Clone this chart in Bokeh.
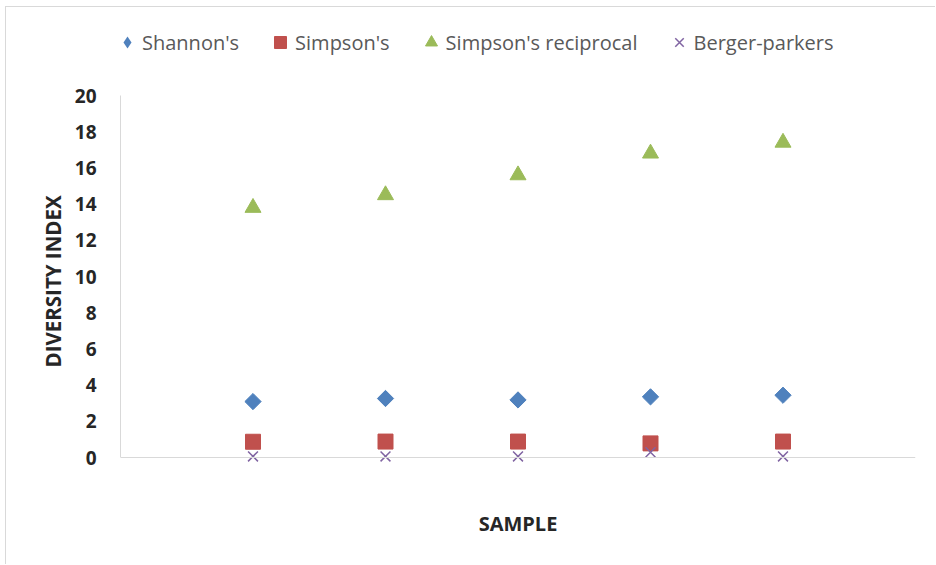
import math
from bokeh.plotting import figure
from bokeh.models import (ColumnDataSource, Legend, LegendItem, Range1d,
                          FixedTicker, Span, Title)
from bokeh.embed import file_html
from bokeh.resources import INLINE

# Diversity indices for five samples
samples = [1, 2, 3, 4, 5]
shannon = [3.09, 3.26, 3.18, 3.35, 3.44]
simpson = [0.87, 0.88, 0.88, 0.78, 0.88]
simpson_recip = [13.8, 14.5, 15.6, 16.8, 17.4]
berger_parker = [0.06, 0.06, 0.06, 0.29, 0.06]
y_ticks = [0, 2, 4, 6, 8, 10, 12, 14, 16, 18, 20]

BLUE = "#4f81bd"
RED = "#c0504d"
GREEN = "#9bbb59"
PURPLE = "#8064a2"
AXIS_GREY = "#d9d9d9"
TEXT_DARK = "#262626"
FONT = "Open Sans"

# The frame reaches above and below the 0..20 axis so the legend and the
# markers sitting on the baseline are not clipped.
PX_PER_UNIT = 362 / 20
FRAME_EXTRA_TOP = 80
FRAME_EXTRA_BOTTOM = 18

src = ColumnDataSource(dict(x=samples, sh=shannon, si=simpson,
                            sr=simpson_recip, bp=berger_parker))

p = figure(width=930, height=558, output_backend="svg", toolbar_location=None,
           x_range=Range1d(0, 6),
           y_range=Range1d(-FRAME_EXTRA_BOTTOM / PX_PER_UNIT,
                           20 + FRAME_EXTRA_TOP / PX_PER_UNIT),
           min_border_left=114, min_border_right=21,
           min_border_top=8, min_border_bottom=90)

p.outline_line_color = None
p.background_fill_color = "white"
p.border_fill_color = "white"
p.xgrid.grid_line_color = None
p.ygrid.grid_line_color = None

p.scatter("x", "sh", source=src, marker="square", angle=math.pi / 4,
          size=11.5, fill_color=BLUE, line_color=BLUE)
r_si = p.scatter("x", "si", source=src, marker="square", size=15,
                 fill_color=RED, line_color=RED)
r_sr = p.scatter("x", "sr", source=src, marker="triangle", size=16,
                 fill_color=GREEN, line_color=GREEN)
r_bp = p.scatter("x", "bp", source=src, marker="x", size=14,
                 line_color=PURPLE, line_width=1.5)
# narrow diamond for the Shannon legend swatch (zero size on the plot itself;
# the legend sizes its swatches from the glyph box)
r_sh_key = p.scatter("x", "sh", source=src, marker="diamond", size=0,
                     fill_color=BLUE, line_color=None)

# y axis, drawn only over 0..20
p.yaxis.bounds = (0, 20)
p.yaxis.ticker = FixedTicker(ticks=y_ticks)
p.yaxis.axis_line_color = AXIS_GREY
p.yaxis.major_tick_line_color = None
p.yaxis.minor_tick_line_color = None
p.yaxis.major_label_text_font = FONT
p.yaxis.major_label_text_font_style = "bold"
p.yaxis.major_label_text_font_size = "19px"
p.yaxis.major_label_text_color = TEXT_DARK
p.yaxis.major_label_standoff = 18

# y title, anchored from the bottom of the frame
p.add_layout(Title(text="DIVERSITY INDEX", align="left", offset=108,
                   text_font=FONT, text_font_style="bold", text_font_size="20.5px",
                   text_color=TEXT_DARK, standoff=10), "left")

# x axis: title only; the baseline is a span at y = 0
p.xaxis.ticker = FixedTicker(ticks=[])
p.xaxis.axis_line_color = None
p.xaxis.major_tick_line_color = None
p.xaxis.minor_tick_line_color = None
p.xaxis.major_label_text_font_size = "0px"
p.xaxis.axis_label = "SAMPLE"
p.xaxis.axis_label_text_font = FONT
p.xaxis.axis_label_text_font_style = "bold"
p.xaxis.axis_label_text_font_size = "20px"
p.xaxis.axis_label_text_color = TEXT_DARK
p.xaxis.axis_label_standoff = 34
p.add_layout(Span(location=0, dimension="width", line_color=AXIS_GREY, line_width=1))

legend = Legend(items=[
    LegendItem(label="Shannon's", renderers=[r_sh_key]),
    LegendItem(label="Simpson's", renderers=[r_si]),
    LegendItem(label="Simpson's reciprocal", renderers=[r_sr]),
    LegendItem(label="Berger-parkers", renderers=[r_bp]),
], orientation="horizontal", location=(-8, 416))
legend.border_line_color = None
legend.background_fill_alpha = 0
legend.label_text_font = FONT
legend.label_text_font_size = "20px"
legend.label_text_color = "#595959"
legend.glyph_width = 30
legend.glyph_height = 34
legend.label_standoff = 0
legend.spacing = 26
legend.padding = 0
legend.margin = 0
p.add_layout(legend, "center")

p.styles = {"margin-left": "5px", "margin-top": "6px",
            "border-left": f"1px solid {AXIS_GREY}",
            "border-top": f"1px solid {AXIS_GREY}"}

html = file_html(p, INLINE)
html = html.replace("<body>", '<body style="margin:0;">', 1)
open("out.html", "w").write(html)
